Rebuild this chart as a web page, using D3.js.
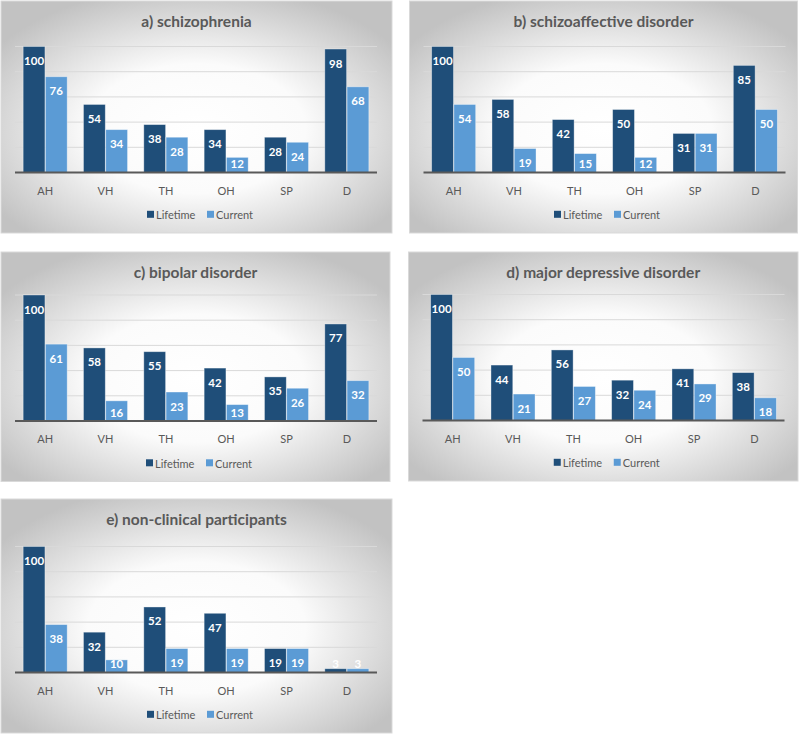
<!DOCTYPE html>
<html><head><meta charset="utf-8">
<script src="https://cdn.jsdelivr.net/npm/d3@7"></script>
<style>body{margin:0;background:#fff}svg{display:block}</style>
</head><body>
<svg id="chart" width="800" height="734"></svg>
<script>
// ---- data ----
const categories = ["AH", "VH", "TH", "OH", "SP", "D"];
const seriesNames = ["Lifetime", "Current"];
const titles = ["a) schizophrenia", "b) schizoaffective disorder", "c) bipolar disorder", "d) major depressive disorder", "e) non-clinical participants"];
const lifetimeA = [100, 54, 38, 34, 28, 98];
const currentA  = [76, 34, 28, 12, 24, 68];
const lifetimeB = [100, 58, 42, 50, 31, 85];
const currentB  = [54, 19, 15, 12, 31, 50];
const lifetimeC = [100, 58, 55, 42, 35, 77];
const currentC  = [61, 16, 23, 13, 26, 32];
const lifetimeD = [100, 44, 56, 32, 41, 38];
const currentD  = [50, 21, 27, 24, 29, 18];
const lifetimeE = [100, 32, 52, 47, 19, 3];
const currentE  = [38, 10, 19, 19, 19, 3];
const gridTicks = [20, 40, 60, 80, 100];

// ---- layout (separate from data) ----
const boxes = [
  {x: 1, y: 1, w: 391, h: 232},
  {x: 409.5, y: 1, w: 388, h: 232},
  {x: 1, y: 252, w: 389, h: 229.5},
  {x: 408.5, y: 252, w: 389.5, h: 229},
  {x: 1, y: 499, w: 391, h: 234}
];
const lifetimes = [lifetimeA, lifetimeB, lifetimeC, lifetimeD, lifetimeE];
const currents = [currentA, currentB, currentC, currentD, currentE];
const colors = {Lifetime: "#1f4e79", Current: "#5b9bd5"};
const FONT = "Lato, 'Open Sans', sans-serif";

const svg = d3.select("#chart");
const defs = svg.append("defs");
const grad = defs.append("radialGradient").attr("id", "bg")
  .attr("cx", "50%").attr("cy", "55%").attr("r", "62%");
grad.append("stop").attr("offset", "0%").attr("stop-color", "#ffffff");
grad.append("stop").attr("offset", "45%").attr("stop-color", "#fbfbfb");
grad.append("stop").attr("offset", "100%").attr("stop-color", "#c2c2c2");

boxes.forEach((b, i) => {
  const g = svg.append("g").attr("transform", `translate(${b.x},${b.y})`);
  g.append("rect").attr("x", 0).attr("y", 0).attr("width", b.w).attr("height", b.h)
    .attr("fill", "url(#bg)").attr("stroke", "#d9d9d9").attr("stroke-width", 1);

  const left = 14, right = left + 362;
  const base = b.h - 60.5;
  const y = d3.scaleLinear().domain([0, 100]).range([base, base - 126]);
  const x = d3.scaleBand().domain(categories).range([left, right])
    .paddingInner(0.27).paddingOuter(0.135);
  const xs = d3.scaleBand().domain(seriesNames).range([0, x.bandwidth()]).paddingInner(0.02);

  // title
  g.append("text").attr("x", b.w / 2).attr("y", 20).attr("text-anchor", "middle")
    .attr("dominant-baseline", "central").attr("font-family", FONT)
    .attr("font-weight", "bold").attr("font-size", "15.5px").attr("fill", "#595959")
    .text(titles[i]);

  // gridlines
  g.append("g").selectAll("line").data(gridTicks).join("line")
    .attr("x1", left).attr("x2", right)
    .attr("y1", d => y(d)).attr("y2", d => y(d))
    .attr("stroke", "#d9d9d9").attr("stroke-width", 1);

  const rows = categories.map((c, j) => ({cat: c, Lifetime: lifetimes[i][j], Current: currents[i][j]}));
  const groups = g.append("g").selectAll("g").data(rows).join("g")
    .attr("transform", d => `translate(${x(d.cat)},0)`);
  const items = groups.selectAll("g").data(d => seriesNames.map(s => ({s, v: d[s]}))).join("g");
  items.append("rect")
    .attr("x", d => xs(d.s)).attr("width", xs.bandwidth())
    .attr("y", d => y(d.v)).attr("height", d => base - y(d.v))
    .attr("fill", d => colors[d.s])
    .attr("stroke", "rgba(255,255,255,0.45)").attr("stroke-width", 0.8);
  items.append("text")
    .attr("x", d => xs(d.s) + xs.bandwidth() / 2)
    .attr("y", d => Math.min(y(d.v) + 14, base - 9))
    .attr("text-anchor", "middle").attr("dominant-baseline", "central")
    .attr("font-family", FONT).attr("font-weight", "bold").attr("font-size", "11.5px")
    .attr("fill", "#ffffff").text(d => d.v);

  // x axis
  const ax = g.append("g").attr("transform", `translate(0,${base})`)
    .call(d3.axisBottom(x).tickSize(0).tickPadding(0));
  ax.select(".domain").attr("stroke", "#595959").attr("stroke-width", 2)
    .attr("d", `M${left},0H${right}`);
  ax.selectAll("text").attr("y", 17.5).attr("dy", null).attr("dominant-baseline", "central")
    .attr("font-family", FONT).attr("font-size", "11px").attr("fill", "#595959");

  // legend
  const cx = b.w / 2, ly = base + 42.3;
  const offs = [-49.5, 10.5];
  const lg = g.append("g").selectAll("g").data(seriesNames).join("g")
    .attr("transform", (d, k) => `translate(${cx + offs[k]},${ly})`);
  lg.append("rect").attr("x", 0).attr("y", -4).attr("width", 7).attr("height", 7)
    .attr("fill", d => colors[d]);
  lg.append("text").attr("x", 9).attr("y", 0).attr("dominant-baseline", "central")
    .attr("font-family", FONT).attr("font-size", "11px").attr("fill", "#595959")
    .text(d => d);
});
</script>
</body></html>
